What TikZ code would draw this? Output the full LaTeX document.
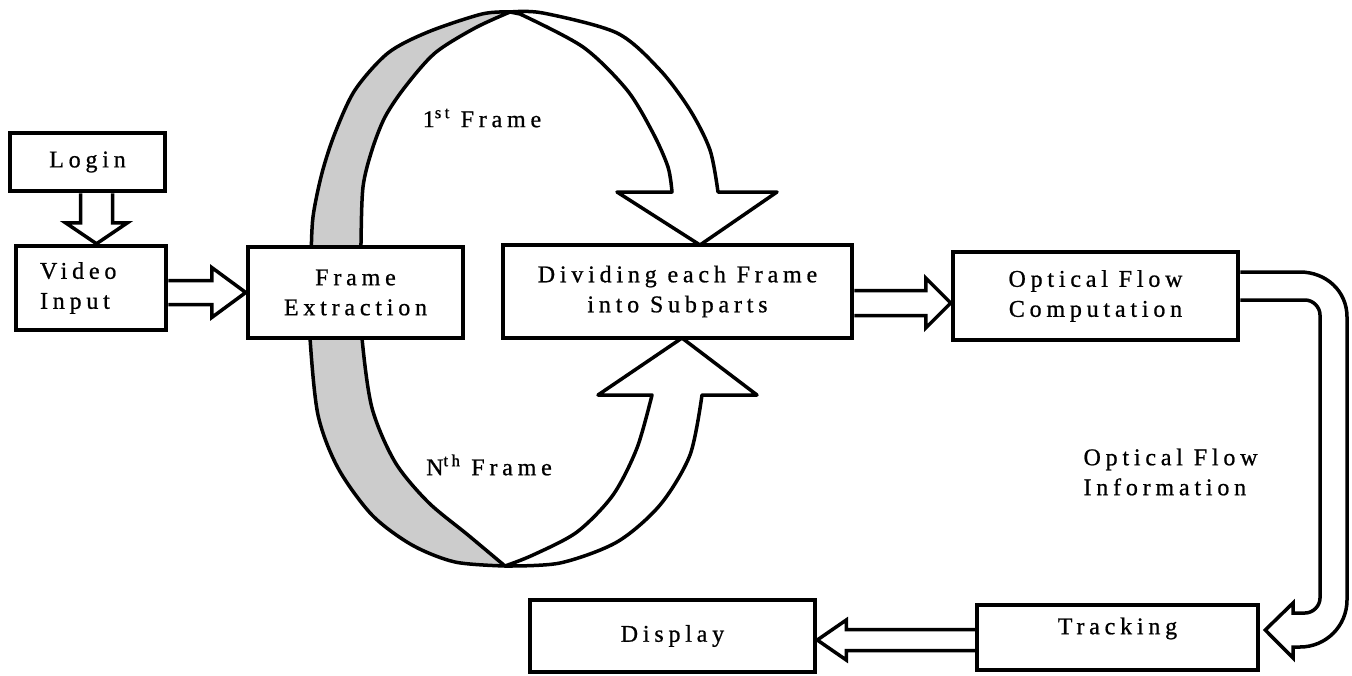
\documentclass[tikz,border=0pt]{standalone}
\usepackage{fontspec}
\setmainfont{Liberation Serif}[LetterSpace=20, FakeBold=0.8]
\usetikzlibrary{calc}

\tikzset{
  box/.style={draw, line width=4.5pt, fill=white, align=center, inner sep=0pt},
  hollow/.style={line width=3.5pt, fill=white, line join=miter},
  ring/.style={line width=3.5pt, line join=round},
}

% block arrow: from, tip, shaft half width, head half width, head length
\newcommand{\hollowarrow}[5]{%
  \draw[hollow] ($(#1)!#3!90:(#2)$) -- ($(#2)!#5!(#1)!#3!-90:(#1)$)
    -- ($(#2)!#5!(#1)!#4!-90:(#1)$) -- (#2)
    -- ($(#2)!#5!(#1)!#4!90:(#1)$) -- ($(#2)!#5!(#1)!#3!90:(#1)$)
    -- ($(#1)!#3!-90:(#2)$);}

\begin{document}
\begin{tikzpicture}[x=1pt, y=-1pt, font=\fontsize{24}{30}\selectfont]
\useasboundingbox (0,0) rectangle (1352,675);

% the ring of frames
\filldraw[ring, fill=black!20] plot[smooth] coordinates {(510,12) (482,14) (428,32) (388,53) (355,90) (335,133) (322,173) (313,217) (311,260) (310,300) (310,338) (318,415) (338,468) (372,515) (412,545) (455,562) (505,566)}
  -- plot[smooth] coordinates {(505,566) (468,535) (428,502) (395,462) (372,408) (362,338) (361,290) (361,243) (363,187) (372,150) (385,117) (405,87) (435,53) (475,28) (510,12)} -- cycle;
\filldraw[ring, fill=white] plot[smooth] coordinates {(510,12) (543,13) (617,33) (660,70) (690,110) (710,150) (718,192)}
  -- (777,192) -- (700,245) -- (617,192) -- (672,192)
  -- plot[smooth] coordinates {(672,192) (668,167) (653,133) (627,90) (583,47) (520,14)} -- cycle;
\filldraw[ring, fill=white] plot[smooth] coordinates {(505,566) (533,555) (577,532) (613,495) (637,448) (652,395)}
  -- (598,395) -- (682,338) -- (757,395) -- (702,395)
  -- plot[smooth] coordinates {(702,395) (690,455) (660,505) (617,542) (560,563) (505,566)} -- cycle;

\node (first) at (482,118) {1\textsuperscript{st} Frame};
\node (nth) at (489,465) {N\textsuperscript{th} Frame};

% boxes
\node[box, minimum width=155pt, minimum height=58pt] (login) at (87.5,162) {Login};
\node[box, minimum width=150pt, minimum height=84pt, text width=102pt, align=left] (video) at (91,288) {Video\\Input};
\node[box, minimum width=215pt, minimum height=91pt] (frame) at (355.5,292.5) {Frame\\Extraction};
\node[box, minimum width=349pt, minimum height=93pt] (divide) at (677.5,291.5) {Dividing each Frame\\into Subparts};
\node[box, minimum width=285pt, minimum height=88pt] (optical) at (1095.5,296) {Optical Flow\\Computation};
\node[box, minimum width=281pt, minimum height=65pt] (tracking) at (1117.5,637.5) {\raisebox{9pt}[\height][\depth]{Tracking}};
\node[box, minimum width=285pt, minimum height=72pt] (display) at (672.5,636) {Display};

\node[anchor=west, align=left] (info) at (1080,472) {Optical Flow\\Information};

% straight arrows
\coordinate (la) at ([xshift=9pt]login.south);
\coordinate (lb) at (la |- video.north);
\hollowarrow{la}{lb}{16pt}{31pt}{21pt}
\coordinate (vb) at (frame.west);
\coordinate (va) at (vb -| video.east);
\hollowarrow{va}{vb}{12pt}{25pt}{34pt}
\coordinate (ob) at ([yshift=-7pt]optical.west);
\coordinate (oa) at (ob -| divide.east);
\hollowarrow{oa}{ob}{12.5pt}{25pt}{25pt}
\coordinate (ta) at ([yshift=-2.5pt]tracking.west);
\coordinate (tb) at (ta -| display.east);
\hollowarrow{ta}{tb}{10.5pt}{20pt}{29pt}

% bent arrow down to tracking
\coordinate (ua) at ([yshift=24pt]optical.east);
\coordinate (ub) at ([yshift=-4pt]optical.east);
\coordinate (utip) at ([xshift=5pt, yshift=7.5pt]tracking.east);
\draw[hollow] (ua) -- (1300,272) .. controls (1326,272) and (1347,291) .. (1347,317)
  -- (1347,600) .. controls (1347,626) and (1326,647) .. (1300,647)
  -- (1293,647) -- (1293,658) -- (utip) -- (1293,603) -- (1293,613) -- (1305,613)
  .. controls (1313,613) and (1320,606) .. (1320,598)
  -- (1320,315) .. controls (1320,307) and (1313,300) .. (1305,300) -- (ub);
\end{tikzpicture}
\end{document}
